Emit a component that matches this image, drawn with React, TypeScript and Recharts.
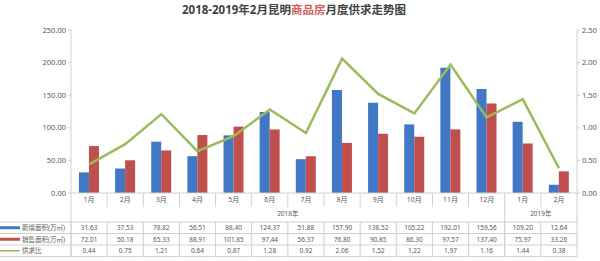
import { ComposedChart, Bar, Line, XAxis, YAxis } from "recharts";

const months = ["1月", "2月", "3月", "4月", "5月", "6月", "7月", "8月", "9月", "10月", "11月", "12月", "1月", "2月"];
const newSupply = [31.63, 37.53, 78.82, 56.51, 88.4, 124.37, 51.88, 157.9, 138.52, 105.22, 192.01, 159.56, 109.2, 12.64];
const sales = [72.01, 50.18, 65.33, 88.91, 101.85, 97.44, 56.37, 76.8, 90.85, 86.3, 97.57, 137.4, 75.97, 33.26];
const ratio = [0.44, 0.75, 1.21, 0.64, 0.87, 1.28, 0.92, 2.06, 1.52, 1.22, 1.97, 1.16, 1.44, 0.38];
const years = [
  { label: "2018年", start: 0, count: 12 },
  { label: "2019年", start: 12, count: 2 },
];
const leftTicks = [0, 50, 100, 150, 200, 250];
const rightTicks = [0, 0.5, 1, 1.5, 2, 2.5];

const BLUE = "#4177c5";
const RED = "#c0504d";
const GREEN = "#9bbb59";
const GRID = "#d0d0d0";
const TEXT = "#595959";
const FONT = "'Noto Sans', 'Noto Sans CJK SC', sans-serif";

const W = 600;
const H = 261;
const PLOT_LEFT = 71;
const PLOT_RIGHT = 577;
const BAND = (PLOT_RIGHT - PLOT_LEFT) / months.length;

const rows = [
  { name: "新增面积(万㎡)", values: newSupply, color: BLUE, fmt: (v: number) => v.toFixed(2), swatch: 3 },
  { name: "销售面积(万㎡)", values: sales, color: RED, fmt: (v: number) => v.toFixed(2), swatch: 3 },
  { name: "供求比", values: ratio, color: GREEN, fmt: (v: number) => v.toFixed(2), swatch: 1.5 },
];

const data = months.map((m, i) => ({
  idx: i,
  month: m,
  newSupply: newSupply[i],
  sales: sales[i],
  ratio: ratio[i],
}));

// row layout below the x axis, relative to axis y
const ROW_TOP = 29;
const ROW_H = 11.5;

function TableTick(props: any) {
  const { x, y, payload } = props;
  const i = Number(payload.value);
  const l = x - BAND / 2;
  const r = x + BAND / 2;
  const bottom = y + ROW_TOP + ROW_H * rows.length;
  const yearStart = years.find((g) => g.start === i);
  const isGroupEdge = years.some((g) => g.start === i);

  return (
    <g fontFamily={FONT}>
      <text x={x} y={y + 9} textAnchor="middle" fontSize={7} fill={TEXT}>
        {months[i]}
      </text>
      {/* category separator */}
      <line x1={l} x2={l} y1={y} y2={isGroupEdge ? bottom : y + 14} stroke={GRID} />
      <line x1={l} x2={l} y1={y + ROW_TOP} y2={bottom} stroke={GRID} />
      {i === months.length - 1 && (
        <line x1={r} x2={r} y1={y} y2={bottom} stroke={GRID} />
      )}
      {yearStart && (
        <text
          x={x + ((yearStart.count - 1) / 2) * BAND}
          y={y + 23}
          textAnchor="middle"
          fontSize={6.5}
          fill={TEXT}
        >
          {yearStart.label}
        </text>
      )}
      {rows.map((row, k) => (
        <g key={k}>
          <line x1={l} x2={r} y1={y + ROW_TOP + ROW_H * k} y2={y + ROW_TOP + ROW_H * k} stroke={GRID} />
          <text x={x} y={y + ROW_TOP + ROW_H * k + 8} textAnchor="middle" fontSize={6.5} fill={TEXT}>
            {row.fmt(row.values[i])}
          </text>
        </g>
      ))}
      <line x1={l} x2={r} y1={bottom} y2={bottom} stroke={GRID} />
      {i === 0 &&
        rows.map((row, k) => {
          const top = y + ROW_TOP + ROW_H * k;
          return (
            <g key={"lg" + k}>
              <line x1={0} x2={l} y1={top} y2={top} stroke={GRID} />
              <rect x={0} y={top + ROW_H / 2 - row.swatch / 2} width={20} height={row.swatch} fill={row.color} />
              <text x={22} y={top + 8} fontSize={6.5} fill={TEXT}>
                {row.name}
              </text>
            </g>
          );
        })}
      {i === 0 && <line x1={0} x2={l} y1={bottom} y2={bottom} stroke={GRID} />}
    </g>
  );
}

export default function App() {
  return (
    <div style={{ position: "absolute", left: 0, top: 0, width: W, height: H, background: "#fff" }}>
      <div
        style={{
          position: "absolute",
          left: 0,
          width: 588,
          top: 3,
          textAlign: "center",
          fontFamily: FONT,
          fontWeight: 700,
          fontSize: 11.5,
          color: "#404040",
          lineHeight: "14px",
        }}
      >
        2018-2019年2月昆明<span style={{ color: "#d0605d" }}>商品房</span>月度供求走势图
      </div>
      <ComposedChart
        width={W}
        height={H}
        data={data}
        margin={{ top: 30, right: 0, bottom: 0, left: 0 }}
        barCategoryGap="22%"
        barGap={0}
      >
        <XAxis
          dataKey="idx"
          type="category"
          interval={0}
          height={68}
          tickLine={false}
          tickSize={0}
          tickMargin={0}
          axisLine={{ stroke: GRID }}
          tick={<TableTick />}
        />
        <YAxis
          yAxisId="left"
          width={71}
          domain={[0, 250]}
          ticks={leftTicks}
          tickFormatter={(v: number) => v.toFixed(2)}
          tick={{ fontSize: 7.5, fill: TEXT, fontFamily: FONT }}
          tickSize={3}
          tickMargin={2}
          axisLine={{ stroke: GRID }}
          tickLine={{ stroke: GRID }}
        />
        <YAxis
          yAxisId="right"
          orientation="right"
          width={23}
          domain={[0, 2.5]}
          ticks={rightTicks}
          tickFormatter={(v: number) => v.toFixed(2)}
          tick={{ fontSize: 7.5, fill: TEXT, fontFamily: FONT }}
          tickSize={3}
          tickMargin={2}
          axisLine={{ stroke: GRID }}
          tickLine={{ stroke: GRID }}
        />
        <Bar yAxisId="left" dataKey="newSupply" fill={BLUE} isAnimationActive={false} />
        <Bar yAxisId="left" dataKey="sales" fill={RED} isAnimationActive={false} />
        <Line
          yAxisId="right"
          type="linear"
          dataKey="ratio"
          stroke={GREEN}
          strokeWidth={2.5}
          dot={false}
          isAnimationActive={false}
        />
      </ComposedChart>
    </div>
  );
}
